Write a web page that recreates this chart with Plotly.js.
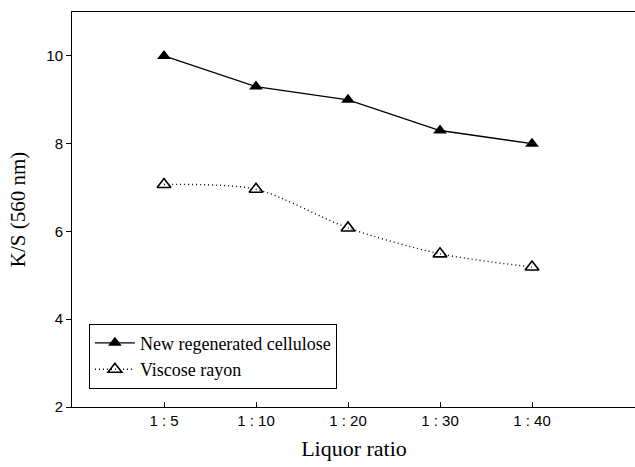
<!DOCTYPE html>
<html>
<head>
<meta charset="utf-8">
<script src="https://cdn.plot.ly/plotly-3.0.1.min.js"></script>
<style>
  html, body { margin: 0; padding: 0; background: #fff; overflow: hidden; }
  #chart { width: 650px; height: 467px; }
</style>
</head>
<body>
<div id="chart"></div>
<script>
// Liquor ratio categories and K/S values at 560 nm
const ratios = ['1 : 5', '1 : 10', '1 : 20', '1 : 30', '1 : 40'];
const positions = [1, 2, 3, 4, 5];
const newCellulose = [10.0, 9.3, 9.0, 8.3, 8.0];
const viscoseRayon = [7.07, 6.96, 6.08, 5.49, 5.19];

const serif = 'Liberation Serif';
const sans = 'Liberation Sans';

const traces = [
  {
    x: positions, y: newCellulose, name: 'New regenerated cellulose',
    mode: 'lines+markers', type: 'scatter',
    line: { color: '#000', width: 1.3 },
    marker: { symbol: 'triangle-up', size: 12, color: '#000' }
  },
  {
    x: positions, y: viscoseRayon, name: 'Viscose rayon',
    mode: 'lines+markers', type: 'scatter',
    line: { color: '#000', width: 1.4, dash: '1px,3px', shape: 'spline', smoothing: 0.8 },
    marker: { symbol: 'triangle-up-open', size: 12, color: '#000', line: { width: 1.6 } }
  }
];

// plot area runs just past the right edge of the view, leaving its right side open
const layout = {
  width: 650, height: 467,
  margin: { l: 72, r: 14, t: 12, b: 60 },
  paper_bgcolor: '#fff', plot_bgcolor: '#fff',
  showlegend: true,
  legend: {
    x: 0.03, y: 0.211, xanchor: 'left', yanchor: 'top',
    bordercolor: '#000', borderwidth: 1, bgcolor: '#fff',
    font: { family: serif, size: 18, color: '#000' },
    itemwidth: 40, tracegroupgap: 0
  },
  xaxis: {
    range: [0, 564 / 92],
    tickvals: positions, ticktext: ratios,
    ticks: 'inside', ticklen: 5, tickcolor: '#000',
    showline: true, linecolor: '#000', linewidth: 1, mirror: true,
    showgrid: false, zeroline: false,
    tickfont: { family: sans, size: 15, color: '#000' },
    title: { text: 'Liquor ratio', font: { family: serif, size: 22, color: '#000' }, standoff: 12 }
  },
  yaxis: {
    range: [2, 11],
    tickvals: [2, 4, 6, 8, 10],
    ticks: 'outside', ticklen: 5, tickcolor: '#000',
    showline: true, linecolor: '#000', linewidth: 1,
    showgrid: false, zeroline: false,
    tickfont: { family: sans, size: 15, color: '#000' },
    title: { text: 'K/S (560 nm)', font: { family: serif, size: 21, color: '#000' }, standoff: 14 }
  }
};

Plotly.newPlot('chart', traces, layout, { displayModeBar: false, staticPlot: true });
</script>
</body>
</html>
